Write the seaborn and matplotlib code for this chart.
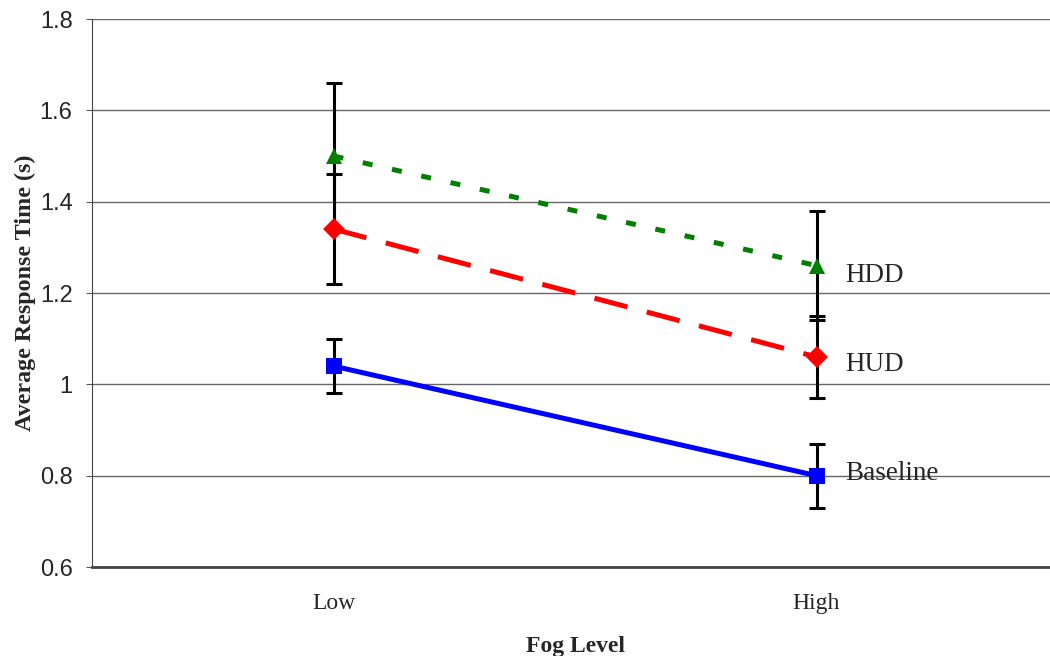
import pandas as pd
import matplotlib.pyplot as plt
import seaborn as sns

fog_levels = ['Low', 'High']
displays = ['Baseline', 'HUD', 'HDD']
baseline_rt = [1.04, 0.80]
baseline_err = [0.06, 0.07]
hud_rt = [1.34, 1.06]
hud_err = [0.12, 0.09]
hdd_rt = [1.50, 1.26]
hdd_err = [0.16, 0.12]

colors = {'Baseline': '#0000ff', 'HUD': '#ff0000', 'HDD': '#008000'}
marks = {'Baseline': 's', 'HUD': 'D', 'HDD': '^'}
dash = {'Baseline': '', 'HUD': (6.8, 4), 'HDD': (2, 4)}
# label nudge below the last point, in points
nudge = {'Baseline': -1.8, 'HUD': 5.4, 'HDD': 6.8}

rt = {'Baseline': baseline_rt, 'HUD': hud_rt, 'HDD': hdd_rt}
err = {'Baseline': baseline_err, 'HUD': hud_err, 'HDD': hdd_err}

rows = []
for d in displays:
    for i, lvl in enumerate(fog_levels):
        rows.append({'display': d, 'pos': i, 'fog': lvl, 'rt': rt[d][i], 'err': err[d][i]})
df = pd.DataFrame(rows)

sns.set_style('white')
fig = plt.figure(figsize=(10.5, 6.56), dpi=100)
ax = fig.add_axes([92 / 1050, 1 - 567 / 656, 966 / 1050, (567 - 19) / 656])

for d in displays:
    sub = df[df['display'] == d]
    ax.errorbar(sub['pos'], sub['rt'], yerr=sub['err'], fmt='none', ecolor='black',
                elinewidth=2.2, capsize=6, capthick=2.2, zorder=2)

sns.lineplot(data=df, x='pos', y='rt', hue='display', style='display',
             palette=colors, markers=marks, dashes=dash, linewidth=3.6,
             markersize=11, markeredgewidth=0, legend=False, ax=ax, zorder=3)

# series names next to the High points
for d in displays:
    ax.annotate(d, (1.06, rt[d][-1]), xytext=(0, -nudge[d]), textcoords='offset points',
                fontsize=19.5, family='Liberation Serif', va='center', ha='left')

ax.set_xlim(-0.5, 1.5)
ax.set_ylim(0.6, 1.8)
ax.set_yticks([0.6, 0.8, 1.0, 1.2, 1.4, 1.6, 1.8])
ax.set_yticklabels(['0.6', '0.8', '1', '1.2', '1.4', '1.6', '1.8'],
                   fontsize=17, family='Liberation Sans')
ax.set_xticks([0, 1])
ax.set_xticklabels(fog_levels, fontsize=17, family='Liberation Serif')
ax.set_xticks([0.5], minor=True)
ax.tick_params(axis='x', which='major', length=0, pad=19)
ax.tick_params(axis='x', which='minor', length=4.5, width=0.8, color='#555555', direction='out')
ax.tick_params(axis='y', length=4.5, width=0.8, color='#555555', direction='out', left=True, pad=9.5)
ax.grid(axis='y', color='#666666', linewidth=1)
ax.set_axisbelow(True)
for s in ['top', 'right']:
    ax.spines[s].set_visible(False)
ax.spines['left'].set_color('#444444')
ax.spines['bottom'].set_color('#444444')
ax.spines['bottom'].set_linewidth(2)

ax.set_xlabel('Fog Level', fontsize=17, fontweight='bold', family='Liberation Serif', labelpad=15.5)
ax.set_ylabel('Average Response Time (s)', fontsize=17.3, fontweight='bold',
              family='Liberation Serif')
ax.yaxis.set_label_coords(-0.058, 0.5)

fig.savefig('out.png', dpi=100)
